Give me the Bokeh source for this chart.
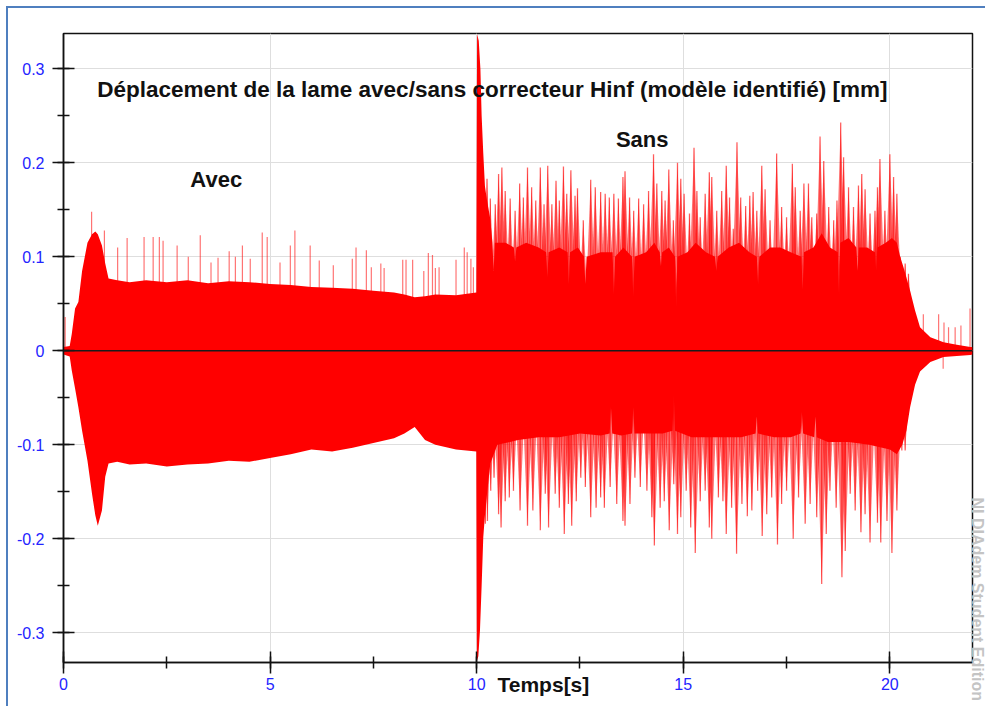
import math
from bokeh.plotting import figure
from bokeh.layouts import column
from bokeh.models import (Range1d, SingleIntervalTicker, CustomJSTickFormatter,
                          Span, Label, ColumnDataSource)
from bokeh.embed import file_html
from bokeh.resources import INLINE

# ---------------- data ----------------
# upper envelope of the dense oscillation (time [s], displacement [mm])
top_t = [0.0, 0.15, 0.2, 0.28, 0.36, 0.45, 0.58, 0.69, 0.77, 0.83, 0.93, 1.01, 1.09,
         1.3, 1.6, 2.0, 2.5, 3.0, 3.5, 4.0, 4.5, 5.0, 5.5, 6.0, 6.5, 7.0, 7.5, 8.0,
         8.25, 8.5, 8.75, 9.0, 9.5, 9.99,
         10.01, 10.05, 10.09, 10.12, 10.16, 10.2, 10.25, 10.33, 10.38, 10.41, 10.44,
         10.7, 10.9, 10.93, 10.96, 11.2, 11.5, 11.68, 11.71, 11.74, 12.0, 12.2, 12.23,
         12.26, 12.45, 12.6, 12.63, 12.66, 13.0, 13.29, 13.32, 13.35, 13.55, 13.76,
         13.79, 13.82, 14.1, 14.3, 14.43, 14.46, 14.49, 14.65, 14.8, 14.83, 14.86,
         15.1, 15.3, 15.55, 15.77, 15.8, 15.83, 16.1, 16.35, 16.6, 16.78, 16.81,
         16.84, 17.1, 17.35, 17.6, 17.86, 17.89, 17.92, 18.15, 18.35, 18.55, 18.74,
         18.77, 18.8, 19.0, 19.19, 19.22, 19.25, 19.45, 19.64, 19.67, 19.7, 19.9,
         20.05, 20.17, 20.25, 20.33, 20.49, 20.61, 20.73, 20.98, 21.3, 21.62, 21.95,
         22.0]
top_v = [0.004, 0.005, 0.018, 0.045, 0.052, 0.085, 0.115, 0.124, 0.127, 0.124, 0.112,
         0.093, 0.077, 0.075, 0.073, 0.075, 0.073, 0.075, 0.072, 0.074, 0.073, 0.071,
         0.07, 0.068, 0.067, 0.066, 0.064, 0.062, 0.06, 0.057, 0.058, 0.06, 0.059,
         0.062,
         0.337, 0.33, 0.30, 0.25, 0.21, 0.175, 0.16, 0.14, 0.115, 0.085, 0.115,
         0.115, 0.11, 0.095, 0.11, 0.115, 0.11, 0.105, 0.078, 0.105, 0.11, 0.105,
         0.071, 0.105, 0.11, 0.1, 0.071, 0.1, 0.105, 0.105, 0.06, 0.1, 0.11, 0.1,
         0.057, 0.1, 0.105, 0.115, 0.105, 0.09, 0.105, 0.11, 0.1, 0.045, 0.1,
         0.105, 0.115, 0.105, 0.1, 0.085, 0.1, 0.11, 0.115, 0.105, 0.1, 0.071,
         0.1, 0.11, 0.11, 0.105, 0.1, 0.065, 0.105, 0.11, 0.125, 0.11, 0.105,
         0.06, 0.115, 0.12, 0.11, 0.085, 0.11, 0.11, 0.105, 0.085, 0.11, 0.115,
         0.12, 0.115, 0.10, 0.089, 0.064, 0.043, 0.025, 0.0145, 0.009, 0.0065, 0.004,
         0.004]

# lower envelope (time [s], displacement [mm])
bot_t = [0.0, 0.15, 0.2, 0.28, 0.36, 0.45, 0.58, 0.69, 0.77, 0.83, 0.93, 1.01, 1.09,
         1.3, 1.6, 2.0, 2.5, 3.0, 3.5, 4.0, 4.5, 5.0, 5.5, 6.0, 6.5, 7.0, 7.5, 8.0,
         8.25, 8.5, 8.75, 9.0, 9.5, 9.99,
         10.005, 10.04, 10.08, 10.12, 10.16, 10.2, 10.25, 10.33, 10.5, 11.0, 11.5,
         12.0, 12.5, 13.0, 13.22, 13.25, 13.28, 13.5, 13.76, 13.79, 13.82, 14.2, 14.5,
         14.74, 14.77, 14.8, 15.2, 15.6, 16.0, 16.4, 16.75, 16.78, 16.81, 17.2, 17.6,
         17.84, 17.87, 17.9, 18.17, 18.2, 18.23, 18.5, 19.0, 19.5, 20.0, 20.17, 20.3,
         20.4, 20.49, 20.61, 20.73, 20.98, 21.3, 21.62, 21.95, 22.0]
bot_v = [-0.004, -0.006, -0.021, -0.04, -0.06, -0.085, -0.117, -0.152, -0.175, -0.186,
         -0.17, -0.134, -0.12, -0.118, -0.121, -0.12, -0.123, -0.121, -0.12, -0.117,
         -0.118, -0.114, -0.11, -0.105, -0.107, -0.103, -0.098, -0.093, -0.088,
         -0.081, -0.095, -0.1, -0.105, -0.107,
         -0.33, -0.325, -0.297, -0.25, -0.198, -0.175, -0.152, -0.12, -0.1, -0.095,
         -0.092, -0.092, -0.088, -0.09, -0.088, -0.06, -0.088, -0.09, -0.088, -0.06,
         -0.088, -0.088, -0.088, -0.085, -0.046, -0.085, -0.092, -0.092, -0.092,
         -0.092, -0.088, -0.07, -0.088, -0.092, -0.092, -0.088, -0.065, -0.088,
         -0.092, -0.07, -0.092, -0.097, -0.097, -0.1, -0.105, -0.11, -0.1, -0.085,
         -0.06, -0.036, -0.022, -0.012, -0.0067, -0.0055, -0.0045, -0.004]

# upward spikes (time [s], peak [mm])
spike_up_t = [0.04, 0.68, 0.99, 1.31, 1.54, 1.95, 2.17, 2.32, 2.41, 2.75, 3.02, 3.31,
              3.57, 3.74, 4.01, 4.16, 4.33, 4.52, 4.81, 4.93, 5.24, 5.49, 5.60, 5.97,
              6.19, 6.53, 6.99, 7.08, 7.33, 7.45, 7.68, 7.76, 8.21, 8.29, 8.45, 8.72,
              8.83, 8.93, 9.0, 9.09, 9.50, 9.70, 9.77, 9.86, 9.92,
              10.25, 10.33, 10.45, 10.53, 10.61, 10.69, 10.81, 10.93, 11.04, 11.13,
              11.23, 11.33, 11.43, 11.54, 11.63, 11.72, 11.82, 11.92, 12.00, 12.10,
              12.18, 12.28, 12.38, 12.44, 12.58, 12.76, 12.87, 13.00, 13.11, 13.21,
              13.32, 13.43, 13.54, 13.59, 13.70, 13.80, 13.92, 14.04, 14.16, 14.28,
              14.36, 14.48, 14.56, 14.65, 14.76, 14.86, 14.94, 15.02, 15.15, 15.26,
              15.33, 15.41, 15.53, 15.63, 15.69, 15.81, 15.93, 16.04, 16.12, 16.21,
              16.30, 16.39, 16.51, 16.61, 16.69, 16.78, 16.90, 16.98, 17.10, 17.26,
              17.38, 17.50, 17.64, 17.71, 17.83, 17.92, 18.03, 18.11, 18.23, 18.31,
              18.40, 18.52, 18.64, 18.72, 18.81, 18.88, 19.00, 19.12, 19.24, 19.32,
              19.40, 19.52, 19.64, 19.70, 19.76, 19.88, 20.00, 20.09, 20.17, 20.25,
              20.37, 20.45, 20.81, 21.18, 21.31, 21.42, 21.58, 21.72, 21.94]
spike_up_v = [0.036, 0.148, 0.128, 0.11, 0.12, 0.121, 0.121, 0.121, 0.117, 0.112, 0.10,
              0.123, 0.094, 0.099, 0.106, 0.10, 0.112, 0.098, 0.126, 0.121, 0.094,
              0.112, 0.128, 0.112, 0.096, 0.091, 0.098, 0.110, 0.107, 0.089, 0.093,
              0.088, 0.097, 0.097, 0.097, 0.085, 0.104, 0.102, 0.088, 0.089, 0.097,
              0.110, 0.105, 0.098, 0.089,
              0.183, 0.162, 0.156, 0.188, 0.195, 0.170, 0.162, 0.149, 0.178, 0.163,
              0.195, 0.174, 0.160, 0.195, 0.156, 0.197, 0.156, 0.181, 0.160, 0.196,
              0.167, 0.192, 0.165, 0.173, 0.139, 0.182, 0.174, 0.169, 0.167, 0.163,
              0.167, 0.162, 0.185, 0.191, 0.163, 0.149, 0.162, 0.156, 0.170, 0.209,
              0.178, 0.170, 0.160, 0.193, 0.139, 0.200, 0.183, 0.167, 0.146, 0.216,
              0.170, 0.142, 0.167, 0.190, 0.185, 0.149, 0.170, 0.197, 0.163, 0.130,
              0.222, 0.163, 0.154, 0.165, 0.169, 0.149, 0.197, 0.172, 0.139, 0.210,
              0.153, 0.142, 0.199, 0.174, 0.149, 0.178, 0.178, 0.142, 0.146, 0.228,
              0.202, 0.153, 0.139, 0.160, 0.243, 0.206, 0.174, 0.153, 0.176, 0.188,
              0.172, 0.146, 0.149, 0.174, 0.204, 0.149, 0.209, 0.185, 0.167, 0.100,
              0.093, 0.082, 0.039, 0.039, 0.030, 0.025, 0.025, 0.027, 0.045]

# downward spikes (time [s], trough [mm])
spike_dn_t = [10.21, 10.26, 10.34, 10.42, 10.53, 10.59, 10.69, 10.79, 10.89, 11.05,
              11.23, 11.36, 11.54, 11.66, 11.74, 11.90, 12.00, 12.12, 12.22, 12.30,
              12.41, 12.52, 12.63, 12.76, 12.89, 13.00, 13.09, 13.23, 13.39, 13.54,
              13.59, 13.71, 13.83, 13.96, 14.12, 14.24, 14.30, 14.44, 14.54, 14.66,
              14.77, 14.86, 14.94, 15.07, 15.18, 15.29, 15.41, 15.53, 15.63, 15.69,
              15.85, 15.96, 16.04, 16.17, 16.29, 16.42, 16.55, 16.66, 16.80, 16.91,
              17.02, 17.14, 17.28, 17.38, 17.50, 17.66, 17.79, 17.95, 18.07, 18.23,
              18.35, 18.46, 18.55, 18.70, 18.84, 18.92, 19.04, 19.16, 19.30, 19.40,
              19.52, 19.70, 19.78, 19.93, 20.05, 20.17, 20.29, 20.37, 21.29]
spike_dn_v = [-0.184, -0.181, -0.149, -0.135, -0.174, -0.188, -0.160, -0.156, -0.149,
              -0.170, -0.186, -0.170, -0.191, -0.152, -0.188, -0.152, -0.167, -0.195,
              -0.163, -0.186, -0.160, -0.135, -0.145, -0.177, -0.167, -0.156, -0.167,
              -0.145, -0.163, -0.181, -0.186, -0.163, -0.135, -0.145, -0.149, -0.177,
              -0.207, -0.167, -0.160, -0.191, -0.142, -0.195, -0.177, -0.149, -0.188,
              -0.215, -0.160, -0.149, -0.188, -0.200, -0.156, -0.160, -0.195, -0.167,
              -0.216, -0.163, -0.176, -0.170, -0.149, -0.197, -0.174, -0.156, -0.206,
              -0.163, -0.149, -0.200, -0.156, -0.184, -0.163, -0.177, -0.248, -0.195,
              -0.149, -0.167, -0.241, -0.213, -0.152, -0.170, -0.193, -0.174, -0.204,
              -0.183, -0.204, -0.181, -0.215, -0.170, -0.106, -0.106, -0.019]

title_text = "Déplacement de la lame avec/sans correcteur Hinf (modèle identifié) [mm]"
x_label = "Temps[s]"
note_avec = "Avec"
note_sans = "Sans"
watermark = "NI DIAdem Student Edition"

# ---------------- figure ----------------
FONT = "Liberation Sans"
BLUE = "#2424ff"
RED = "#ff0000"
W, H = 977, 698
HALF = 0.17   # half base width (s) of a burst wedge

p = figure(width=W, height=H, x_range=Range1d(0, 22), y_range=Range1d(-0.3316, 0.3376),
           output_backend="svg", toolbar_location=None,
           min_border_left=55, min_border_right=13, min_border_top=25, min_border_bottom=44)
p.background_fill_color = "white"
p.border_fill_color = "white"
p.outline_line_color = "#111111"
p.outline_line_width = 1.5

p.varea(x="t", y1=0, y2="v", source=ColumnDataSource(dict(t=top_t, v=top_v)),
        fill_color=RED)
p.varea(x="t", y1="v", y2=0, source=ColumnDataSource(dict(t=bot_t, v=bot_v)),
        fill_color=RED)

def bursts(ts, vs, keep):
    sel = [(t, v) for t, v in zip(ts, vs) if keep(t)]
    xs = [[t - HALF, t, t + HALF] for t, v in sel]
    ys = [[0, v, 0] for t, v in sel]
    p.patches(xs, ys, fill_color=RED, fill_alpha=0.55, line_color=None)
    src = ColumnDataSource(dict(t=[s[0] for s in sel], v=[s[1] for s in sel],
                                z=[0] * len(sel)))
    p.segment(x0="t", y0="z", x1="t", y1="v", source=src,
              line_color=RED, line_alpha=0.6, line_width=1.3)

def lines(ts, vs, keep):
    sel = [(t, v) for t, v in zip(ts, vs) if keep(t)]
    src = ColumnDataSource(dict(t=[s[0] for s in sel], v=[s[1] for s in sel],
                                z=[0] * len(sel)))
    p.segment(x0="t", y0="z", x1="t", y1="v", source=src,
              line_color=RED, line_alpha=0.55, line_width=1.2)

lines(spike_up_t, spike_up_v, lambda t: t < 10 or t > 20.6)
bursts(spike_up_t, spike_up_v, lambda t: 10 <= t <= 20.6)
bursts(spike_dn_t, spike_dn_v, lambda t: t <= 20.6)
lines(spike_dn_t, spike_dn_v, lambda t: t > 20.6)

p.add_layout(Span(location=0, dimension="width", line_color="#1a1a1a", line_width=1.5))

for ax in (p.xaxis, p.yaxis):
    ax.axis_line_color = "#111111"
    ax.axis_line_width = 1.5
    ax.major_tick_line_color = "#111111"
    ax.major_tick_line_width = 1.5
    ax.minor_tick_line_color = "#111111"
    ax.minor_tick_line_width = 1.5
    ax.major_tick_in = 11
    ax.major_tick_out = 11
    ax.minor_tick_in = 6
    ax.minor_tick_out = 6
    ax.major_label_text_color = BLUE
    ax.major_label_text_font = FONT
    ax.major_label_text_font_size = "16px"

p.xaxis.ticker = SingleIntervalTicker(interval=5, num_minor_ticks=2)
p.yaxis.ticker = SingleIntervalTicker(interval=0.1, num_minor_ticks=2)
p.yaxis.formatter = CustomJSTickFormatter(
    code="return Math.abs(tick) < 1e-9 ? '0' : tick.toFixed(1);")
p.xaxis.formatter = CustomJSTickFormatter(code="return tick.toFixed(0);")
p.yaxis.major_label_standoff = 8
p.xaxis.major_label_standoff = 4

p.xgrid.grid_line_color = "#dedede"
p.ygrid.grid_line_color = "#dedede"

p.add_layout(Label(x=0.816, y=0.2652, text=title_text, text_font=FONT,
                   text_font_style="bold", text_font_size="22.5px", text_color="#111111"))
p.add_layout(Label(x=3.07, y=0.1687, text=note_avec, text_font=FONT,
                   text_font_style="bold", text_font_size="22px", text_color="#111111"))
p.add_layout(Label(x=13.37, y=0.2113, text=note_sans, text_font=FONT,
                   text_font_style="bold", text_font_size="22px", text_color="#111111"))

root = column(p, styles={"margin-left": "6px", "margin-top": "6px",
                         "border-left": "2px solid #4f7fbf",
                         "border-top": "2px solid #4f7fbf"})

# transparent overlay (pixel coordinates of the canvas) for the texts outside the frame;
# a separate root, absolutely placed over the chart, so its frame is the whole canvas
ov = figure(width=W, height=H, x_range=Range1d(0, W), y_range=Range1d(H, 0),
            output_backend="svg", toolbar_location=None,
            x_axis_type=None, y_axis_type=None, min_border=0,
            styles={"position": "absolute", "left": "8px", "top": "8px"})
ov.outline_line_color = None
ov.background_fill_alpha = 0
ov.border_fill_alpha = 0
ov.add_layout(Label(x=489, y=664, text=x_label, text_font=FONT, text_font_style="bold",
                    text_font_size="21px", text_color="#111111", text_baseline="top"))
ov.add_layout(Label(x=968.5, y=489, text=watermark, text_font=FONT,
                    text_font_style="bold", text_font_size="16px", text_color="#c4c4c4",
                    angle=-math.pi / 2, text_align="left", text_baseline="middle"))

open("out.html", "w").write(file_html([root, ov], INLINE))
